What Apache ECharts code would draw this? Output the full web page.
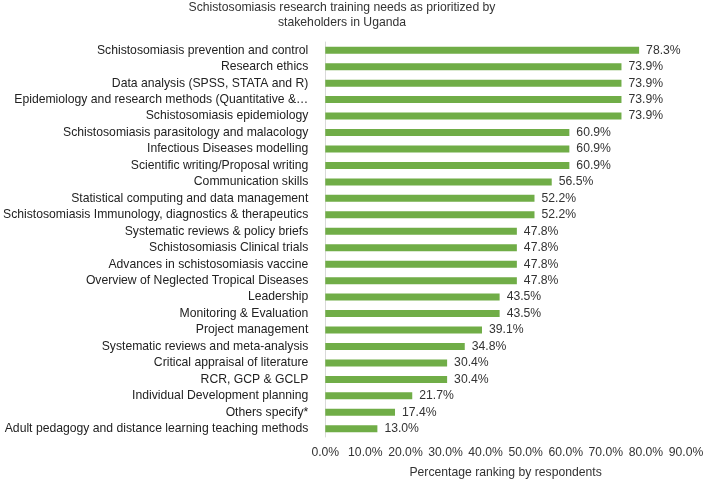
<!DOCTYPE html>
<html><head><meta charset="utf-8">
<script src="https://cdn.jsdelivr.net/npm/echarts@6/dist/echarts.min.js"></script>
<style>html,body{margin:0;padding:0;background:#fff}#c{width:709px;height:484px}</style>
</head><body><div id="c"></div>
<script>
const categories = [
 "Schistosomiasis prevention and control",
 "Research ethics",
 "Data analysis (SPSS, STATA and R)",
 "Epidemiology and research methods (Quantitative &…",
 "Schistosomiasis epidemiology",
 "Schistosomiasis parasitology and malacology",
 "Infectious Diseases modelling",
 "Scientific writing/Proposal writing",
 "Communication skills",
 "Statistical computing and data management",
 "Schistosomiasis Immunology, diagnostics & therapeutics",
 "Systematic reviews & policy briefs",
 "Schistosomiasis Clinical trials",
 "Advances in schistosomiasis vaccine",
 "Overview of Neglected Tropical Diseases",
 "Leadership",
 "Monitoring & Evaluation",
 "Project management",
 "Systematic reviews and meta-analysis",
 "Critical appraisal of literature",
 "RCR, GCP & GCLP",
 "Individual Development planning",
 "Others specify*",
 "Adult pedagogy and distance learning teaching methods"
];
const values = [78.3,73.9,73.9,73.9,73.9,60.9,60.9,60.9,56.5,52.2,52.2,47.8,47.8,47.8,47.8,43.5,43.5,39.1,34.8,30.4,30.4,21.7,17.4,13.0];
const titleLines = ["Schistosomiasis research training needs as prioritized by", "stakeholders in Uganda"];
const xName = "Percentage ranking by respondents";

const chart = echarts.init(document.getElementById('c'));
const font = "Liberation Sans, Arial, sans-serif";
chart.setOption({
  animation:false,
  textStyle:{fontFamily:font},
  graphic:[
    {type:'text',x:342,y:8,style:{text:titleLines[0],fill:'#333',font:'12.2px '+font,textAlign:'center',textVerticalAlign:'middle'}},
    {type:'text',x:342,y:22.5,style:{text:titleLines[1],fill:'#333',font:'12.2px '+font,textAlign:'center',textVerticalAlign:'middle'}}
  ],
  grid:{left:325,right:23,top:42,bottom:44.7,containLabel:false},
  xAxis:{type:'value',min:0,max:90,interval:10,
    axisLine:{show:false},axisTick:{show:false},splitLine:{show:false},
    axisLabel:{formatter:v=>v.toFixed(1)+'%',color:'#333',fontSize:12.2,margin:10,fontFamily:font},
    name:xName,nameLocation:'middle',nameGap:30,nameTextStyle:{color:'#333',fontSize:12.2,fontFamily:font}},
  yAxis:{type:'category',data:categories,inverse:true,
    axisLine:{show:true,lineStyle:{color:'#d9d9d9'}},axisTick:{show:false},
    axisLabel:{color:'#222',fontSize:12.2,margin:17,fontFamily:font}},
  series:[{type:'bar',data:values,barWidth:7,itemStyle:{color:'#70ad47'},
    label:{show:true,position:'right',distance:7,formatter:p=>p.value.toFixed(1)+'%',color:'#333',fontSize:12.2,fontFamily:font}}]
});
</script></body></html>
